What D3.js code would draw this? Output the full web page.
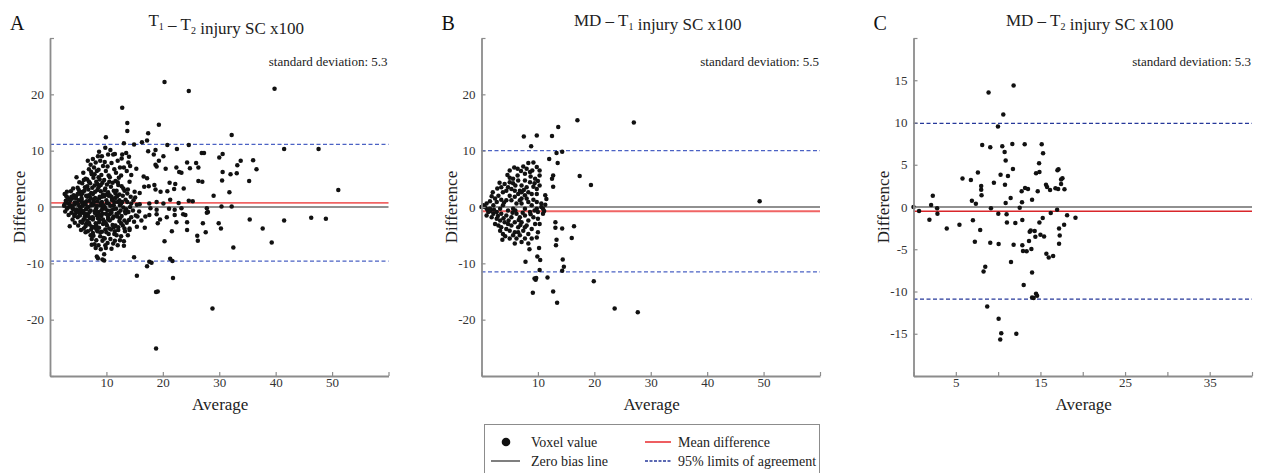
<!DOCTYPE html>
<html>
<head>
<meta charset="utf-8">
<script src="https://cdn.jsdelivr.net/npm/d3@7"></script>
<style>
  body { margin: 0; background: #fff; }
  svg text { font-family: "Liberation Serif", "Times New Roman", serif; }
</style>
</head>
<body>
<div id="chart"></div>
<script>
// 読み取った値 (Average, Difference)
const pointsA = [
  [2.6,2.3],[3.1,1.7],[2.8,1.1],[3.3,0.6],[2.5,0.2],[3.0,-0.3],[2.7,-0.8],[3.4,1.4],[2.9,0.9],[3.2,-0.1],[3.0,2.7],[3.3,-1.4],[2.6,0.5],[2.9,1.9],[3.5,-3.4],
  [3.7,2.8],[4.2,2.1],[3.9,1.5],[4.4,0.8],[3.6,0.3],[4.1,-0.4],[3.8,-1.0],[4.3,-1.6],[4.0,-2.2],[3.6,1.1],[4.3,0.5],[3.9,-0.1],[4.1,3.3],[4.4,-2.8],[3.8,1.8],[4.0,0.0],[4.5,-0.6],
  [4.7,5.3],[5.2,4.4],[4.9,3.4],[5.4,2.6],[4.6,1.9],[5.1,1.2],[4.8,0.7],[5.3,0.1],[4.7,-0.5],[5.2,-1.1],[4.9,-1.8],[5.4,-2.6],[5.0,-3.3],[5.5,2.2],[4.6,1.5],[5.0,0.4],[5.4,-0.2],[4.8,-0.9],[5.1,3.0],[5.3,-1.5],
  [5.9,6.1],[6.3,5.0],[5.7,4.2],[6.2,3.5],[5.8,2.7],[6.4,2.0],[5.6,1.3],[6.1,0.8],[5.8,0.2],[6.4,-0.4],[5.7,-1.0],[6.2,-1.7],[5.9,-2.3],[6.4,-3.0],[6.0,-3.8],[6.3,-4.5],[5.6,1.6],[6.3,0.5],[5.9,-0.7],[6.1,-2.0],[6.0,4.8],[5.7,2.4],
  [6.7,8.2],[7.2,7.5],[6.9,6.7],[7.4,5.8],[6.6,4.9],[7.1,4.2],[6.8,3.1],[7.3,2.5],[6.6,1.8],[7.0,1.1],[7.4,0.6],[6.8,0.0],[7.2,-0.6],[6.6,-1.3],[7.1,-2.0],[6.9,-2.8],[7.4,-3.5],[6.7,-4.3],[7.2,-5.0],[7.4,-5.7],[7.4,-6.7],[6.9,2.1],[7.3,0.3],[6.8,-1.6],[7.0,-3.1],[7.3,6.2],[6.6,3.7],
  [7.6,8.5],[8.1,7.9],[7.8,7.0],[8.3,6.4],[7.7,5.2],[8.2,4.5],[7.9,3.8],[8.4,3.0],[7.6,2.3],[8.0,1.6],[8.4,1.0],[7.7,0.4],[8.2,-0.2],[7.9,-0.8],[8.3,-1.5],[7.6,-2.2],[8.1,-2.9],[7.8,-3.6],[8.4,-4.3],[7.7,-5.1],[8.2,-5.9],[7.9,-6.6],[8.3,-8.8],[7.7,1.3],[8.1,-0.5],[7.6,-1.9],[8.2,-3.3],[7.9,5.8],[8.4,4.1],[8.5,9.0],
  [8.7,9.8],[9.2,9.0],[8.9,8.2],[9.4,7.3],[8.6,6.6],[9.1,5.7],[8.8,4.9],[9.3,4.3],[8.6,3.5],[9.0,2.8],[9.4,2.2],[8.7,1.5],[9.2,0.9],[8.9,0.3],[9.3,-0.3],[8.6,-0.9],[9.1,-1.6],[8.8,-2.3],[9.4,-3.0],[8.7,-3.7],[9.2,-4.4],[8.9,-5.2],[9.3,-6.0],[8.6,-6.8],[9.0,-7.5],[8.5,-9.1],[9.3,-9.3],[8.8,1.8],[9.3,-1.2],[8.7,-2.7],[9.0,0.6],
  [9.8,10.5],[10.3,9.3],[9.7,8.0],[10.2,7.2],[9.9,6.4],[10.4,5.6],[9.6,4.8],[10.1,4.0],[9.8,3.3],[10.3,2.6],[9.6,1.9],[10.0,1.2],[10.4,0.6],[9.7,0.0],[10.2,-0.6],[9.9,-1.2],[10.3,-1.9],[9.6,-2.6],[10.1,-3.3],[9.8,-4.0],[10.4,-4.8],[9.7,-5.6],[10.2,-6.4],[9.9,-7.3],[9.6,-8.4],[9.6,-9.5],[10.0,2.2],[9.8,-0.3],[10.3,-2.2],[10.0,-4.5],
  [10.7,10.1],[11.2,9.3],[10.9,7.8],[11.4,6.7],[10.6,5.3],[11.1,4.3],[10.8,3.6],[11.3,2.9],[10.6,2.1],[11.0,1.5],[11.4,0.9],[10.7,0.2],[11.2,-0.4],[10.9,-1.0],[11.3,-1.7],[10.6,-2.4],[11.1,-3.2],[10.8,-4.0],[11.4,-4.8],[10.7,-5.7],[11.2,-6.5],[10.9,-7.4],[11.0,1.2],[10.6,-1.3],[11.3,-3.6],
  [11.5,9.4],[12.0,8.2],[11.7,6.1],[12.2,5.2],[11.6,4.6],[12.1,3.9],[11.8,2.9],[12.3,2.2],[11.6,1.6],[12.0,0.9],[12.4,0.3],[11.7,-0.3],[12.2,-1.0],[11.9,-1.7],[12.3,-2.5],[11.6,-3.3],[12.1,-4.1],[11.8,-5.0],[12.4,-5.9],[12.0,-6.8],[11.9,1.9],[12.4,-2.0],[12.4,7.0],
  [12.8,9.3],[12.7,8.6],[13.1,7.0],[12.6,5.6],[12.7,3.7],[13.2,2.9],[12.9,2.0],[13.4,1.3],[12.6,0.6],[13.0,-0.1],[13.3,-0.8],[12.7,-1.6],[13.2,-2.4],[12.9,-3.3],[13.3,-4.3],[12.6,-5.2],[13.1,-6.1],[13.1,-6.9],[12.8,0.9],[13.4,-1.1],
  [13.5,9.6],[14.0,8.9],[13.9,7.9],[14.2,7.3],[13.6,6.4],[14.1,4.5],[13.8,3.1],[14.3,1.8],[13.7,0.9],[14.2,0.0],[13.9,-0.9],[14.4,-1.8],[13.6,-2.8],[14.1,-3.8],[13.8,-5.0],[14.1,-4.1],
  [15.3,6.8],[14.4,5.7],[15.0,2.7],[14.8,1.2],[15.4,0.4],[14.7,-0.6],[15.2,-1.5],[14.9,-2.6],[15.4,-3.5],
  [16.6,5.4],[15.9,2.5],[15.9,0.5],[15.8,-0.8],[15.5,-1.7],[16.2,-2.4],
  [4.4,-1.3],[4.9,2.3],[5.3,-0.6],[5.6,0.9],[5.7,-2.8],[6.1,2.9],[6.2,-1.2],[6.5,1.0],[6.5,-0.2],[6.6,-2.5],[6.9,4.5],[7.0,-0.9],[7.2,1.6],[7.5,-1.8],
  [7.5,3.4],[7.6,-4.6],[7.8,0.9],[8.0,-1.1],[8.0,2.7],[8.2,-3.9],[8.3,0.2],[8.5,-2.0],[8.6,5.3],[8.8,-1.4],[8.9,-4.5],[9.0,3.9],[9.1,-0.6],[9.2,1.8],
  [9.4,-2.2],[9.5,0.3],[9.5,-5.5],[9.7,3.0],[9.9,-2.9],[10.1,0.7],[10.2,-1.4],[10.4,2.0],[10.5,-3.8],[10.5,4.5],[10.8,-0.6],[10.9,1.8],[11.1,-2.0],
  [11.3,0.3],[11.5,-4.3],[11.6,2.4],[11.8,-1.2],[12.0,4.4],[12.1,-3.6],[12.3,1.2],[12.5,-0.6],[12.6,-2.9],[13.0,3.3],[13.2,-3.8],[13.5,-0.4],[13.7,2.4],
  [14.0,-2.3],[14.4,0.6],[7.3,-4.0],[6.3,-3.4],[5.5,-4.1],[8.1,-7.3],[9.8,-6.8],[11.5,-6.0],
  [12.8,17.6],[13.7,14.9],[13.7,13.5],[19.3,14.6],[24.6,20.6],[20.3,22.2],[39.8,21.0],[9.9,12.4],[17.4,13.1],[17.2,11.8],[13.1,11.3],[14.9,11.1],[16.3,11.5],
  [20.8,11.0],[24.6,11.0],[22.5,10.3],[26.9,9.6],[27.3,9.6],[17.4,9.9],[18.7,10.1],[20.1,9.0],[19.3,8.2],[18.4,9.3],[18.9,7.2],[18.7,7.5],[20.5,6.8],[22.4,7.0],
  [24.3,7.9],[25.9,7.8],[24.8,6.9],[26.3,7.0],[23.3,6.1],[22.9,6.2],[26.3,4.6],[27.0,4.5],[21.2,4.3],[22.2,4.1],[23.7,3.3],[22.0,3.2],[17.2,5.1],[16.7,3.6],
  [17.5,3.7],[18.5,3.9],[18.7,3.1],[19.6,2.7],[20.8,2.8],[15.1,1.7],[17.6,0.6],[18.9,0.9],[20.1,0.6],[21.3,1.3],[22.8,0.7],[24.6,1.1],[25.3,1.0],[28.0,-0.9],
  [17.8,-0.2],[18.9,-0.5],[21.1,-0.3],[22.1,-0.5],[23.3,-0.2],[16.9,-1.7],[17.6,-1.4],[18.9,-1.3],[19.5,-2.2],[20.7,-1.8],[22.1,-1.4],[23.6,-1.3],[24.0,-1.4],
  [24.3,-2.7],[22.4,-2.7],[19.1,-2.9],[16.8,-3.7],[21.6,-4.3],[24.3,-4.1],[26.1,-5.1],[26.2,-6.0],[27.6,-4.5],[27.1,-2.9],[20.3,-6.1],[14.9,-8.9],[17.2,-10.5],
  [17.6,-9.7],[18.0,-9.9],[15.4,-12.2],[21.3,-9.2],[21.7,-9.6],[21.8,-12.6],[18.8,-15.1],[19.1,-15.0],[18.8,-25.1],[28.8,-18.0],[51.1,3.0],[29.0,2.0],[30.4,0.1],
  [32.2,0.1],[31.8,2.6],[27.8,-0.2],[27.8,-1.0],[29.9,-2.9],[30.3,-3.8],[32.5,-7.2],[35.4,-2.2],[37.7,-3.8],[39.3,-6.3],[41.5,-2.4],[46.3,-1.9],[48.9,-2.1],
  [41.5,10.3],[47.6,10.3],[32.2,12.8],[36.0,8.3],[36.6,6.7],[35.3,4.6],[33.8,8.2],[33.2,7.4],[33.1,6.0],[32.0,5.8],[30.6,6.2],[30.5,4.7],[30.0,8.8],[30.6,9.4]
];

const pointsB = [
  [6.4,6.8],[7.4,7.2],[8.3,7.8],[9.2,7.9],[9.8,7.1],[10.3,6.5],[7.7,5.9],[8.7,5.4],[10.0,4.6],[9.2,3.6],[8.3,2.6],[6.5,4.7],[5.6,4.2],[5.0,5.2],[4.1,4.1],
  [4.4,2.9],[5.3,3.2],[7.1,3.8],[8.0,3.5],[8.9,2.3],[9.8,3.2],[10.3,3.8],[6.5,2.3],[5.9,1.8],[7.1,1.5],[8.0,1.5],[5.0,2.0],[3.8,2.6],[3.0,2.0],[2.4,1.5],
  [1.8,1.9],[1.5,1.0],[3.5,1.3],[10.6,0.6],[9.8,0.9],[10.6,0.0],[9.8,-0.3],[4.7,3.5],[5.9,2.9],[6.8,2.9],[5.3,1.2],[6.2,0.6],[7.1,0.6],[8.3,0.9],[8.9,0.3],
  [4.4,1.2],[2.7,0.9],[0.9,0.6],[0.3,0.3],[0.6,0.0],[0.0,0.0],[2.1,0.3],[3.8,0.3],[5.6,-0.3],[7.7,-0.3],[10.9,-0.3],[3.3,-0.3],[1.5,-0.3],[5.0,6.5],[8.6,6.2],
  [10.3,5.6],[9.5,5.0],[7.7,4.7],[6.4,5.6],[5.6,5.0],[5.0,4.4],[3.5,3.5],[7.1,2.6],[9.8,2.3],
  [1.2,-0.9],[2.1,-1.2],[0.9,-1.5],[1.8,-1.8],[2.7,-2.1],[3.5,-1.2],[4.4,-1.5],[3.3,-2.4],[4.1,-2.7],[2.4,-3.0],[3.5,-3.6],[4.4,-3.9],[3.3,-4.2],[3.8,-4.8],
  [3.7,-5.8],[5.3,-1.8],[5.9,-2.7],[5.3,-3.3],[5.0,-4.2],[5.9,-4.5],[6.5,-3.6],[7.1,-2.7],[6.8,-1.8],[7.7,-1.5],[8.3,-2.4],[8.0,-3.3],[7.4,-4.2],[6.8,-5.0],
  [6.2,-5.6],[5.9,-6.5],[7.7,-5.6],[8.3,-4.8],[8.9,-3.9],[9.5,-3.0],[10.0,-2.1],[9.2,-1.8],[10.3,-3.0],[10.0,-4.5],[9.8,-5.4],[8.9,-5.6],[8.3,-6.5],[10.9,-1.2],
  [2.7,-0.9],[4.7,-0.6],[6.2,-1.2],[8.6,-0.9],[10.0,-0.9],[3.0,-3.3],[4.7,-3.0],[5.6,-5.0],[5.0,-5.6],[7.1,-6.2],[6.5,-4.5],[7.7,-3.6],
  [1.0,-0.4],[1.6,-0.7],[2.2,-0.5],[2.9,-1.6],[3.9,-2.0],[4.8,-2.4],[5.5,-1.0],[6.0,-0.6],[6.6,-2.3],[7.3,-1.0],[8.7,-1.3],[9.4,-0.6],[4.2,-5.2],[6.9,-3.2],
  [2.0,2.6],[2.8,3.3],[3.2,4.3],[4.6,5.7],[5.8,7.0],[7.0,6.4],[8.0,6.8],[9.0,6.5],[6.0,3.8],[7.5,3.0],[8.6,4.4],[9.4,4.2],[4.0,0.8],[6.8,1.2],[7.7,2.1],[9.2,1.3],
  [17.0,15.4],[27.0,15.0],[13.6,14.2],[7.5,12.5],[9.8,12.7],[12.5,12.6],[8.8,10.8],[13.3,9.6],[14.3,9.8],[12.0,8.5],[13.5,7.8],[17.4,5.5],[19.4,3.9],[12.7,5.6],
  [12.5,5.0],[12.7,3.6],[11.3,2.1],[49.3,1.0],[23.6,-18.0],[27.7,-18.7],[19.9,-13.2],[16.4,-3.4],[16.0,-5.5],[14.6,-10.6],[14.4,-9.3],[14.3,-11.3],[13.3,-5.8],
  [13.2,-6.8],[13.1,-2.7],[13.1,-3.7],[14.3,-3.8],[11.5,1.4],[11.3,0.4],[11.1,-0.7],[12.7,-15.0],[13.4,-17.0],[11.7,-12.5],[10.4,-9.4],[10.3,-11.2],[10.2,-7.3],
  [9.9,-8.8],[9.7,-12.6],[9.6,-12.9],[9.4,-12.7],[9.1,-15.2],[7.8,-9.7],[8.5,-7.5]
];

const pointsC = [
  [0.0,0.0],[0.66,-0.48],[1.88,-1.5],[2.08,0.23],[2.28,1.34],[2.79,-0.16],[2.83,-0.79],[3.93,-2.53],[5.43,-2.1],[5.79,3.36],[6.78,3.2],[6.9,0.75],
  [7.02,-1.58],[7.37,0.39],[7.25,-4.1],[7.61,4.07],[7.88,-2.73],[8.0,2.49],[8.0,2.05],[8.04,1.38],[8.12,7.34],[8.28,-7.62],[8.48,-7.07],[8.87,13.55],
  [8.71,-11.77],[9.07,7.07],[9.07,-4.23],[9.15,-0.16],[9.5,2.88],[9.98,9.52],[10.02,-0.79],[10.06,-4.39],[10.06,-13.23],[10.29,3.83],[10.37,-14.93],
  [10.25,-15.68],[10.49,7.19],[10.61,10.94],[10.77,6.52],[10.81,2.64],[10.89,5.49],[10.89,0.47],[11.0,-0.87],[11.04,-1.82],[11.16,3.67],[11.48,1.06],
  [11.52,-6.52],[11.68,7.46],[11.75,4.5],[11.83,14.37],[11.83,-4.47],[12.03,-1.9],[12.15,-15.01],[12.55,-0.08],[12.78,1.85],[12.82,0.55],[12.86,-1.54],
  [12.86,-4.54],[12.94,-5.21],[13.02,-9.24],[13.14,7.42],[13.18,2.25],[13.37,-5.25],[13.53,2.13],[13.65,-4.03],[13.73,-2.93],[13.85,-2.77],[13.93,-4.98],
  [14.01,0.87],[14.01,-7.74],[14.01,-10.7],[14.2,-10.78],[14.32,-2.85],[14.4,-3.52],[14.48,-10.27],[14.6,-10.51],[14.48,3.99],[14.68,1.85],[14.84,5.17],
  [14.88,4.15],[14.88,-1.82],[15.0,-3.28],[15.15,7.42],[15.27,-1.3],[15.31,6.36],[15.43,-3.48],[15.66,2.64],[15.78,2.37],[15.7,-5.53],[15.98,-5.97],
  [16.14,2.01],[16.22,-0.71],[16.5,-5.81],[16.77,2.21],[16.97,-0.32],[17.01,4.34],[17.13,4.46],[17.09,2.13],[17.2,-2.53],[17.28,-3.36],[17.2,-4.35],
  [17.44,2.72],[17.44,3.24],[17.6,3.4],[17.84,2.09],[17.8,-2.1],[18.15,-0.99],[19.14,-1.27]
];

// 統計量
const sdValues = [5.3, 5.5, 5.3];
const meanDiff = [0.75, -0.75, -0.5];
const upperLimit = [11.1, 10.0, 9.9];
const lowerLimit = [-9.6, -11.5, -10.9];

// 軸
const xDomains = [[0, 60], [0, 60], [0, 40]];
const yDomains = [[-30, 30], [-30, 30], [-20, 20]];
const xTicks = [[0, 10, 20, 30, 40, 50, 60], [0, 10, 20, 30, 40, 50, 60], [0, 5, 10, 15, 20, 25, 30, 35, 40]];
const xTickLabels = [[10, 20, 30, 40, 50], [10, 20, 30, 40, 50], [5, 15, 25, 35]];
const yTicks = [[-30, -20, -10, 0, 10, 20, 30], [-30, -20, -10, 0, 10, 20, 30], [-20, -15, -10, -5, 0, 5, 10, 15, 20]];
const yTickLabels = [[-20, -10, 0, 10, 20], [-20, -10, 0, 10, 20], [-15, -10, -5, 0, 5, 10, 15]];

const panelLetters = ["A", "B", "C"];
const titleParts = [
  [["T", false], ["1", true], [" – T", false], ["2", true], [" injury SC x100", false]],
  [["MD – T", false], ["1", true], [" injury SC x100", false]],
  [["MD – T", false], ["2", true], [" injury SC x100", false]]
];
const legendLabels = ["Voxel value", "Mean difference", "Zero bias line", "95% limits of agreement"];

const width = 1263;
const height = 473;
const svg = d3.select("#chart").append("svg")
    .attr("width", width)
    .attr("height", height);

const serif = '"Liberation Serif", "Times New Roman", serif';
const plotTop = 38;
const plotBottom = 376;
const lefts = [50, 481.5, 913.5];
const plotW = 338.5;
const allPoints = [pointsA, pointsB, pointsC];
const redColors = ["#f06464", "#f06464", "#d9262b"];
const blueColors = ["#4b62c4", "#4b62c4", "#26389a"];

lefts.forEach((left, i) => {
    const right = left + plotW;
    const x = d3.scaleLinear().domain(xDomains[i]).range([left, right]);
    const y = d3.scaleLinear().domain(yDomains[i]).range([plotBottom, plotTop]);
    const g = svg.append("g");

    // 基準線
    g.append("line")
        .attr("x1", left).attr("x2", right)
        .attr("y1", y(0)).attr("y2", y(0))
        .attr("stroke", "#222").attr("stroke-width", 1.1);
    g.append("line")
        .attr("x1", left).attr("x2", right)
        .attr("y1", y(meanDiff[i])).attr("y2", y(meanDiff[i]))
        .attr("stroke", redColors[i]).attr("stroke-width", i < 2 ? 1.8 : 1.3);
    [upperLimit[i], lowerLimit[i]].forEach(v => {
        g.append("line")
            .attr("x1", left).attr("x2", right)
            .attr("y1", y(v)).attr("y2", y(v))
            .attr("stroke", blueColors[i]).attr("stroke-width", 1.3)
            .attr("stroke-dasharray", "4,2.5");
    });

    // 点
    g.selectAll("circle.pt")
        .data(allPoints[i])
        .join("circle")
        .attr("class", "pt")
        .attr("cx", d => x(d[0]))
        .attr("cy", d => y(d[1]))
        .attr("r", 2.25)
        .attr("fill", "#111");

    // 軸
    const yAxis = d3.axisLeft(y)
        .tickValues(yTicks[i])
        .tickSize(-4)
        .tickSizeOuter(0)
        .tickPadding(6)
        .tickFormat(d => yTickLabels[i].includes(d) ? String(d) : "");
    const xAxis = d3.axisBottom(x)
        .tickValues(xTicks[i])
        .tickSize(-4)
        .tickSizeOuter(0)
        .tickPadding(2)
        .tickFormat(d => xTickLabels[i].includes(d) ? String(d) : "");

    [g.append("g").attr("transform", `translate(${left},0)`).call(yAxis),
     g.append("g").attr("transform", `translate(0,${plotBottom})`).call(xAxis)].forEach(ax => {
        ax.attr("font-family", serif).attr("font-size", 13);
        ax.select(".domain").attr("stroke", "#8c8c8c").attr("stroke-width", 1.8);
        ax.selectAll(".tick line").attr("stroke", "#8c8c8c").attr("stroke-width", 1.2);
        ax.selectAll(".tick text")
            .attr("fill", "#333")
            .style("font-size", "13px")
            .style("font-family", serif);
    });

    // ラベル
    g.append("text")
        .attr("x", (left + right) / 2 + 1)
        .attr("y", 410)
        .attr("text-anchor", "middle")
        .style("font-size", "17px")
        .attr("fill", "#222")
        .text("Average");
    g.append("text")
        .attr("transform", `translate(${left - 25},${(plotTop + plotBottom) / 2}) rotate(-90)`)
        .attr("text-anchor", "middle")
        .style("font-size", "17px")
        .attr("fill", "#222")
        .text("Difference");
    g.append("text")
        .attr("x", right - 1)
        .attr("y", 66)
        .attr("text-anchor", "end")
        .style("font-size", "13px")
        .attr("fill", "#222")
        .text(`standard deviation: ${sdValues[i]}`);
    g.append("text")
        .attr("x", left - 40)
        .attr("y", 30)
        .style("font-size", "20px")
        .attr("fill", "#111")
        .text(panelLetters[i]);

    const title = g.append("text")
        .attr("x", (left + right) / 2 + 7)
        .attr("y", 26)
        .attr("text-anchor", "middle")
        .style("font-size", "17px")
        .attr("fill", "#222");
    titleParts[i].forEach(([t, sub]) => {
        title.append("tspan")
            .attr("dy", sub ? 4 : 0)
            .style("font-size", sub ? "10px" : "17px")
            .text(t);
        if (sub) title.append("tspan").attr("dy", -4).text("");
    });
});

// 凡例
const legend = svg.append("g");
legend.append("rect")
    .attr("x", 484.5).attr("y", 424.5)
    .attr("width", 335).attr("height", 60)
    .attr("fill", "none").attr("stroke", "#8c8c8c").attr("stroke-width", 1);
legend.append("circle").attr("cx", 506).attr("cy", 442).attr("r", 4.3).attr("fill", "#111");
legend.append("line").attr("x1", 645).attr("x2", 671).attr("y1", 442).attr("y2", 442)
    .attr("stroke", "#e8282d").attr("stroke-width", 1.5);
legend.append("line").attr("x1", 491).attr("x2", 520).attr("y1", 461).attr("y2", 461)
    .attr("stroke", "#555").attr("stroke-width", 1.5);
legend.append("line").attr("x1", 645).attr("x2", 671).attr("y1", 461).attr("y2", 461)
    .attr("stroke", "#26389a").attr("stroke-width", 1.5).attr("stroke-dasharray", "3,1.5");
const legendPos = [[531, 446.5], [678, 446.5], [531, 465.5], [678, 465.5]];
legend.selectAll("text.lg")
    .data(legendLabels)
    .join("text")
    .attr("class", "lg")
    .attr("x", (d, i) => legendPos[i][0])
    .attr("y", (d, i) => legendPos[i][1])
    .style("font-size", "14px")
    .attr("fill", "#222")
    .text(d => d);
</script>
</body>
</html>
